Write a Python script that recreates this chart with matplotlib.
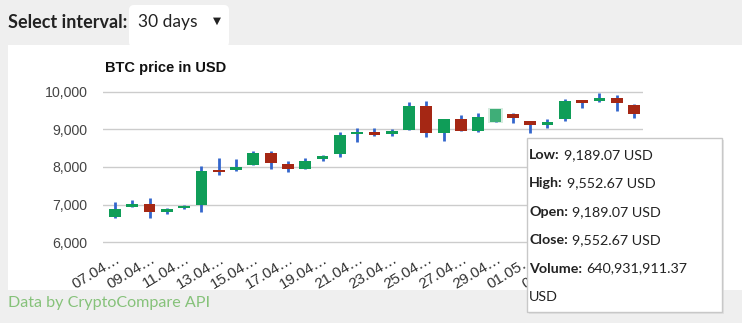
import matplotlib.pyplot as plt
from matplotlib.patches import Rectangle, FancyBboxPatch

# Daily candles, 07.04 - 07.05
dates = ['07.04', '08.04', '09.04', '10.04', '11.04', '12.04', '13.04', '14.04',
         '15.04', '16.04', '17.04', '18.04', '19.04', '20.04', '21.04', '22.04',
         '23.04', '24.04', '25.04', '26.04', '27.04', '28.04', '29.04', '30.04',
         '01.05', '02.05', '03.05', '04.05', '05.05', '06.05', '07.05']
opens = [6680, 6940, 7025, 6815, 6905, 7000, 7920, 7930, 8050, 8360, 8080,
         7960, 8210, 8345, 8880, 8920, 8870, 8985, 9630, 8910, 9275, 8955,
         9189.07, 9405, 9230, 9115, 9270, 9760, 9755, 9825, 9645]
closes = [6884, 7025, 6813, 6865, 6965, 7900, 7870, 8010, 8360, 8115, 7960,
          8170, 8290, 8850, 8935, 8855, 8955, 9630, 8910, 9275, 8965, 9335,
          9552.67, 9295, 9125, 9200, 9750, 9710, 9840, 9695, 9400]
highs = [7063, 7115, 7185, 6910, 6985, 8035, 8230, 8200, 8430, 8430, 8160,
         8230, 8320, 8940, 9045, 9045, 9010, 9720, 9760, 9280, 9380, 9425,
         9552.67, 9440, 9235, 9275, 9800, 9765, 9960, 9910, 9675]
lows = [6637, 6930, 6637, 6750, 6880, 6815, 7790, 7900, 8045, 7950, 7880,
        7950, 8170, 8275, 8670, 8830, 8830, 8980, 8805, 8700, 8960, 8940,
        9189.07, 9160, 8895, 9030, 9220, 9575, 9735, 9490, 9295]

# tooltip of the highlighted day
hover = 22
tip_volume = 640931911.37

W, H = 742, 323
rise, fall, wick = '#0f9d58', '#a52714', '#3366cc'
chart_font = 'Liberation Sans'
page_font = ['Lato', 'DejaVu Sans']

fig = plt.figure(figsize=(W / 100, H / 100), dpi=100)
fig.patch.set_facecolor('#efefef')

# page layer in pixel coordinates
bg = fig.add_axes([0, 0, 1, 1], zorder=0)
bg.set_xlim(0, W)
bg.set_ylim(H, 0)
bg.axis('off')
bg.add_patch(Rectangle((8, 45), W - 8, 245, fc='white', ec='none'))
bg.add_patch(FancyBboxPatch((129, 5), 100, 42, boxstyle='round,pad=0,rounding_size=5',
                            fc='white', ec='none'))
bg.text(8, 22, 'Select interval:', fontsize=13, fontweight='bold', family=page_font,
        color='#222222', va='center')
bg.text(138, 22, '30 days', fontsize=12.5, family=page_font, color='#222222', va='center')
bg.text(213, 21, '▼', fontsize=7.5, family=page_font, color='#222222', va='center')
bg.text(8, 303, 'Data by CryptoCompare API', fontsize=11.6, family=page_font,
        color='#86c27a', va='center')
bg.text(105, 68, 'BTC price in USD', fontsize=10.5, fontweight='bold', family=chart_font,
        color='#111111', va='center')

# candlestick chart
ax = fig.add_axes([103 / W, 1 - 250 / H, 540 / W, 170 / H], zorder=1)
ax.patch.set_alpha(0)
x = list(range(len(dates)))
for i in x:
    o, c, hi, lo = opens[i], closes[i], highs[i], lows[i]
    col = rise if c >= o else fall
    if i == hover:
        ax.bar(i, abs(c - o) + 50, bottom=min(o, c) - 25, width=0.82, color='#d6ece0',
               zorder=2)
        col = '#3fae78'
    ax.vlines(i, lo, hi, color=wick, lw=2, zorder=3)
    ax.bar(i, max(abs(c - o), 60), bottom=min(o, c), width=0.68, color=col, zorder=4)

ax.set_xlim(-0.69, 30.52)
ax.set_ylim(5795, 10311)
ax.set_yticks(range(6000, 10001, 1000))
ax.set_yticklabels([f'{v:,}' for v in range(6000, 10001, 1000)])
ax.tick_params(axis='y', length=0, pad=11, labelsize=10.2, labelcolor='#444444')
for lab in ax.get_yticklabels():
    lab.set_family(chart_font)
ax.set_xticks([])
ax.grid(axis='y', color='#cccccc', lw=1, zorder=0)
for s in ax.spines.values():
    s.set_visible(False)

for i in x[::2]:
    ax.text(i + 0.05, -0.01, dates[i] + '…', transform=ax.get_xaxis_transform(),
            rotation=31, rotation_mode='anchor', ha='right', va='top',
            fontsize=11, family=chart_font, color='#333333')

# tooltip on top of everything
top = fig.add_axes([0, 0, 1, 1], zorder=3)
top.set_xlim(0, W)
top.set_ylim(H, 0)
top.axis('off')
top.patch.set_alpha(0)
top.add_patch(Rectangle((529, 140), 195, 174, fc='#d8d8d8', ec='none', alpha=0.6))
top.add_patch(Rectangle((527, 138), 195, 174, fc='white', ec='#c8c8c8', lw=1))

rows = [('Low:', f'{lows[hover]:,.2f} USD'),
        ('High:', f'{highs[hover]:,.2f} USD'),
        ('Open:', f'{opens[hover]:,.2f} USD'),
        ('Close:', f'{closes[hover]:,.2f} USD'),
        ('Volume:', f'{tip_volume:,.2f}')]
fig.canvas.draw()
renderer = fig.canvas.get_renderer()
for k, (name, val) in enumerate(rows):
    y = 155 + 28.4 * k
    t = top.text(529, y, name, fontsize=10.3, fontweight='bold', family=page_font,
                 color='#222222', va='center')
    ext = t.get_window_extent(renderer)
    top.text(529 + ext.width + 4, y, val, fontsize=10.3, family=page_font,
             color='#222222', va='center')
top.text(529, 155 + 28.4 * 5, 'USD', fontsize=10.3, family=page_font,
         color='#222222', va='center')

fig.savefig('out.png', dpi=100, facecolor=fig.get_facecolor())
